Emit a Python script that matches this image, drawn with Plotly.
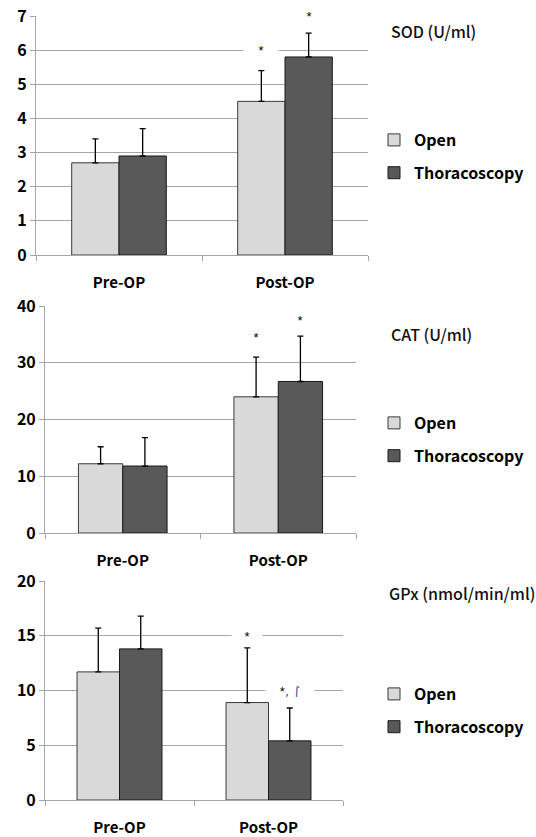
import plotly.graph_objects as go

# ---------------- data ----------------
categories = ["Pre-OP", "Post-OP"]
series_names = ["Open", "Thoracoscopy"]

sod_open = [2.7, 4.5]
sod_open_sd = [0.7, 0.9]
sod_thor = [2.9, 5.8]
sod_thor_sd = [0.8, 0.7]

cat_open = [12.2, 24.0]
cat_open_sd = [3.0, 7.0]
cat_thor = [11.8, 26.7]
cat_thor_sd = [5.0, 8.0]

gpx_open = [11.7, 8.9]
gpx_open_sd = [4.0, 5.0]
gpx_thor = [13.8, 5.4]
gpx_thor_sd = [3.0, 3.0]

panel_titles = ["SOD (U/ml)", "CAT (U/ml)", "GPx (nmol/min/ml)"]
y_max = [7, 40, 20]
y_dtick = [1, 10, 5]

# significance marks: (panel, category index, series index, y value, text)
sig_marks = [
    (0, 1, 0, 6.0, "*"),
    (0, 1, 1, 7.0, "*"),
    (1, 1, 0, 34.5, "*"),
    (1, 1, 1, 37.5, "*"),
    (2, 1, 0, 15.0, "*"),
    (2, 1, 1, 10.0, "*<span style='color:#2a56a8;font-family:DejaVu Sans'>, ∫</span>"),
]

# ---------------- layout helpers ----------------
W, H = 536, 837
def X(px): return px / W
def Y(py): return 1 - py / H

x_dom_px = [(36, 368), (45, 356), (45, 343)]
y_dom_px = [(16, 255), (306, 533), (581, 800)]
title_pos_px = [(389, 31), (389, 334), (387, 593)]
legend_pos_px = [(374, 123), (374, 406), (374, 677)]
box_width = [32, 32, 30, 30, 28, 46]

BARGAP = 0.43
FILL = ["#d9d9d9", "#595959"]
EDGE = ["#3a3a3a", "#1a1a1a"]
GRID = "#a6a6a6"
BOLD_FONT = "Noto Sans CJK KR"

panels = [
    [(sod_open, sod_open_sd), (sod_thor, sod_thor_sd)],
    [(cat_open, cat_open_sd), (cat_thor, cat_thor_sd)],
    [(gpx_open, gpx_open_sd), (gpx_thor, gpx_thor_sd)],
]

fig = go.Figure()
for p, series in enumerate(panels):
    sfx = "" if p == 0 else str(p + 1)
    for s, (vals, sds) in enumerate(series):
        fig.add_trace(go.Bar(
            x=categories, y=vals, name=series_names[s],
            marker=dict(color=FILL[s], line=dict(color=EDGE[s], width=1)),
            error_y=dict(type="data", array=sds, arrayminus=[0] * len(sds),
                         symmetric=False, color="black", thickness=1.3, width=3),
            xaxis="x" + sfx, yaxis="y" + sfx,
            legend="legend" + sfx, legendgroup=f"g{p}_{s}",
        ))

layout = dict(
    width=W, height=H, template="none",
    margin=dict(l=0, r=0, t=0, b=0),
    paper_bgcolor="white", plot_bgcolor="white",
    barmode="group", bargap=BARGAP, bargroupgap=0,
    showlegend=True,
)
annotations = []
for p in range(3):
    sfx = "" if p == 0 else str(p + 1)
    layout["xaxis" + sfx] = dict(
        domain=[X(x_dom_px[p][0]), X(x_dom_px[p][1])],
        anchor="y" + sfx, type="category", range=[-0.5, 1.5],
        showline=True, linecolor=GRID, linewidth=1,
        ticks="outside", tickson="boundaries", ticklen=5, tickcolor=GRID,
        showgrid=False, zeroline=False, ticklabelstandoff=14,
        tickfont=dict(family=BOLD_FONT, size=15, color="black", weight="bold"),
    )
    layout["yaxis" + sfx] = dict(
        domain=[Y(y_dom_px[p][1]), Y(y_dom_px[p][0])],
        anchor="x" + sfx, range=[0, y_max[p]], dtick=y_dtick[p], tick0=0,
        showline=True, linecolor=GRID, linewidth=1,
        ticks="outside", ticklen=5, tickcolor=GRID,
        showgrid=True, gridcolor=GRID, gridwidth=1, zeroline=False,
        tickfont=dict(family=BOLD_FONT, size=16, color="black", weight="bold"),
    )
    layout["legend" + sfx] = dict(
        x=X(legend_pos_px[p][0]), y=Y(legend_pos_px[p][1]),
        xanchor="left", yanchor="top", bgcolor="rgba(0,0,0,0)",
        traceorder="grouped", tracegroupgap=9, itemwidth=30,
        font=dict(family=BOLD_FONT, size=16, color="black", weight="bold"),
    )
    annotations.append(dict(
        text=panel_titles[p], xref="paper", yref="paper",
        x=X(title_pos_px[p][0]), y=Y(title_pos_px[p][1]),
        xanchor="left", yanchor="middle", showarrow=False,
        font=dict(family=BOLD_FONT, size=16, color="#111111", weight=500),
    ))

half = (1 - BARGAP) / 4
for k, (p, c, s, yv, txt) in enumerate(sig_marks):
    sfx = "" if p == 0 else str(p + 1)
    annotations.append(dict(
        text=txt, xref="x" + sfx, yref="y" + sfx,
        x=c + (-half if s == 0 else half), y=yv,
        showarrow=False, bgcolor="white", width=box_width[k], height=12,
        font=dict(family="Liberation Sans", size=13, color="black"),
    ))
layout["annotations"] = annotations
fig.update_layout(**layout)

fig.write_html(
    "out.html",
    config={"displayModeBar": False},
    post_script="document.body.style.margin='0';document.body.style.padding='0';",
)
